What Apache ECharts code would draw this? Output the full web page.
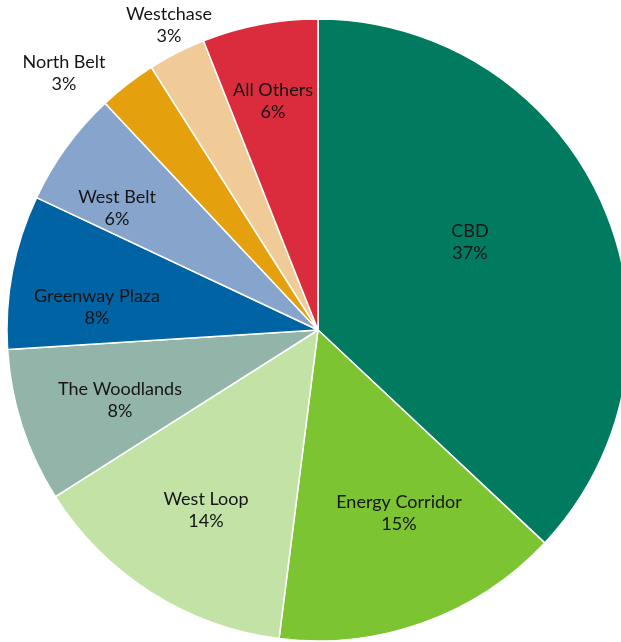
<!DOCTYPE html>
<html>
<head>
<meta charset="utf-8">
<script src="https://cdn.jsdelivr.net/npm/echarts@6/dist/echarts.min.js"></script>
<style>
  html, body { margin: 0; padding: 0; background: #ffffff; }
  #chart { width: 621px; height: 642px; }
</style>
</head>
<body>
<div id="chart"></div>
<script>
// Office submarket shares, drawn clockwise from 12 o'clock
const submarkets = ['CBD', 'Energy Corridor', 'West Loop', 'The Woodlands', 'Greenway Plaza',
                    'West Belt', 'North Belt', 'Westchase', 'All Others'];
const shares = [37, 15, 14, 8, 8, 6, 3, 3, 6];

const sliceColors = ['#007B5F', '#7DC433', '#C2E2A6', '#93B5A9', '#0063A3',
                     '#87A5CC', '#E5A00E', '#F0CB97', '#DA2C3D'];

// Where each label block is centred (px)
const labelAnchors = [[470, 242], [399, 513], [206, 510], [120, 400], [97, 307],
                      [117, 208], [64, 73], [169, 25], [273, 101]];

const chart = echarts.init(document.getElementById('chart'), null, { renderer: 'canvas' });

chart.setOption({
  animation: false,
  backgroundColor: '#ffffff',
  series: [{
    type: 'pie',
    center: [318, 330],
    radius: [0, 311],
    startAngle: 90,
    clockwise: true,
    avoidLabelOverlap: false,
    data: submarkets.map((name, i) => ({
      name: name,
      value: shares[i],
      itemStyle: { color: sliceColors[i] }
    })),
    itemStyle: { borderColor: '#ffffff', borderWidth: 1.5 },
    label: {
      show: true,
      position: 'inside',
      formatter: p => p.name + '\n' + Math.round(p.percent) + '%',
      fontFamily: 'Lato, "DejaVu Sans", sans-serif',
      fontSize: 18,
      lineHeight: 22,
      color: '#151515',
      align: 'center'
    },
    labelLine: { show: false },
    labelLayout: p => ({
      x: labelAnchors[p.dataIndex][0],
      y: labelAnchors[p.dataIndex][1],
      align: 'center',
      verticalAlign: 'middle'
    }),
    emphasis: { disabled: true }
  }]
});
</script>
</body>
</html>
